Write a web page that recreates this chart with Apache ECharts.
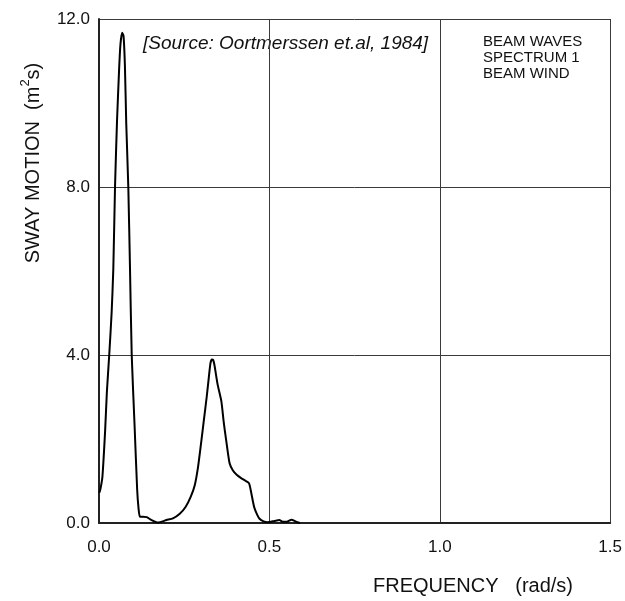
<!DOCTYPE html>
<html>
<head>
<meta charset="utf-8">
<script src="https://cdn.jsdelivr.net/npm/echarts@6/dist/echarts.min.js"></script>
<style>
  html, body { margin: 0; padding: 0; background: #fff; }
  #chart { width: 625px; height: 601px; }
</style>
</head>
<body>
<div id="chart"></div>
<script>
// frequency (rad/s)
const freq = [0.001, 0.004, 0.010, 0.018, 0.023, 0.030, 0.037, 0.042, 0.047, 0.053,
  0.059, 0.063, 0.068, 0.072, 0.076, 0.080, 0.086, 0.091, 0.096, 0.104,
  0.112, 0.116, 0.120, 0.129, 0.140, 0.154, 0.173, 0.198, 0.217, 0.237,
  0.254, 0.269, 0.281, 0.290, 0.298, 0.307, 0.316, 0.322, 0.327, 0.331, 0.335,
  0.339, 0.348, 0.359, 0.366, 0.373, 0.383, 0.393, 0.404, 0.417, 0.427,
  0.440, 0.447, 0.452, 0.456, 0.464, 0.471, 0.483, 0.494, 0.515, 0.529,
  0.539, 0.551, 0.565, 0.578, 0.590]
// sway motion spectrum (m2s)
const sway = [0.72, 0.80, 1.10, 2.20, 3.10, 4.00, 5.00, 6.05, 8.00, 9.60,
  10.80, 11.40, 11.67, 11.60, 10.90, 9.50, 8.00, 6.05, 4.00, 2.40,
  0.79, 0.35, 0.15, 0.15, 0.14, 0.07, 0.01, 0.07, 0.11, 0.22,
  0.38, 0.62, 0.90, 1.30, 1.80, 2.40, 3.00, 3.45, 3.80, 3.89, 3.88,
  3.75, 3.30, 2.90, 2.40, 1.98, 1.43, 1.25, 1.15, 1.07, 1.02,
  0.95, 0.71, 0.50, 0.36, 0.20, 0.10, 0.04, 0.02, 0.05, 0.07,
  0.03, 0.03, 0.08, 0.03, 0.00]

const notes = ['BEAM WAVES', 'SPECTRUM 1', 'BEAM WIND']

const chart = echarts.init(document.getElementById('chart'))
const font = 'Liberation Sans, Arial, sans-serif'
const gridLine = { show: true, lineStyle: { color: '#3a3a3a', width: 1 } }

chart.setOption({
  animation: false,
  grid: { left: 99, right: 13, top: 19, bottom: 78 },
  xAxis: {
    type: 'value', min: 0, max: 1.5, interval: 0.5,
    axisLine: { lineStyle: { color: '#222', width: 2 } },
    axisTick: { show: false },
    splitLine: gridLine,
    axisLabel: { color: '#111', fontSize: 17, fontFamily: font, margin: 16,
      formatter: v => v.toFixed(1) }
  },
  yAxis: {
    type: 'value', min: 0, max: 12, interval: 4,
    axisLine: { show: true, lineStyle: { color: '#222', width: 2 } },
    axisTick: { show: false },
    splitLine: gridLine,
    axisLabel: { color: '#111', fontSize: 17, fontFamily: font, margin: 9,
      formatter: v => v.toFixed(1) }
  },
  graphic: [
    {
      type: 'text', left: 373, top: 576,
      style: { text: 'FREQUENCY   (rad/s)', fontSize: 20, fontFamily: font, fill: '#111' }
    },
    {
      type: 'text', x: 31, y: 163, rotation: Math.PI / 2,
      style: {
        text: '{a|SWAY MOTION  (m}{s|2}{a|s)}',
        align: 'center', verticalAlign: 'middle',
        rich: {
          a: { fontSize: 20, fontFamily: font, fill: '#111', verticalAlign: 'bottom', lineHeight: 24 },
          s: { fontSize: 13, fontFamily: font, fill: '#111', verticalAlign: 'top', lineHeight: 24 }
        }
      }
    },
    {
      type: 'text', left: 143, top: 34,
      style: { text: '[Source: Oortmerssen et.al, 1984]', fontSize: 19, fontStyle: 'italic',
        fontFamily: font, fill: '#111' }
    },
    {
      type: 'text', left: 483, top: 34,
      style: { text: notes.join('\n'), fontSize: 15, lineHeight: 16, fontFamily: font, fill: '#111' }
    }
  ],
  series: [{
    type: 'line',
    data: freq.map((f, i) => [f, sway[i]]),
    showSymbol: false,
    smooth: 0.2,
    lineStyle: { color: '#000', width: 2 }
  }]
})
</script>
</body>
</html>
